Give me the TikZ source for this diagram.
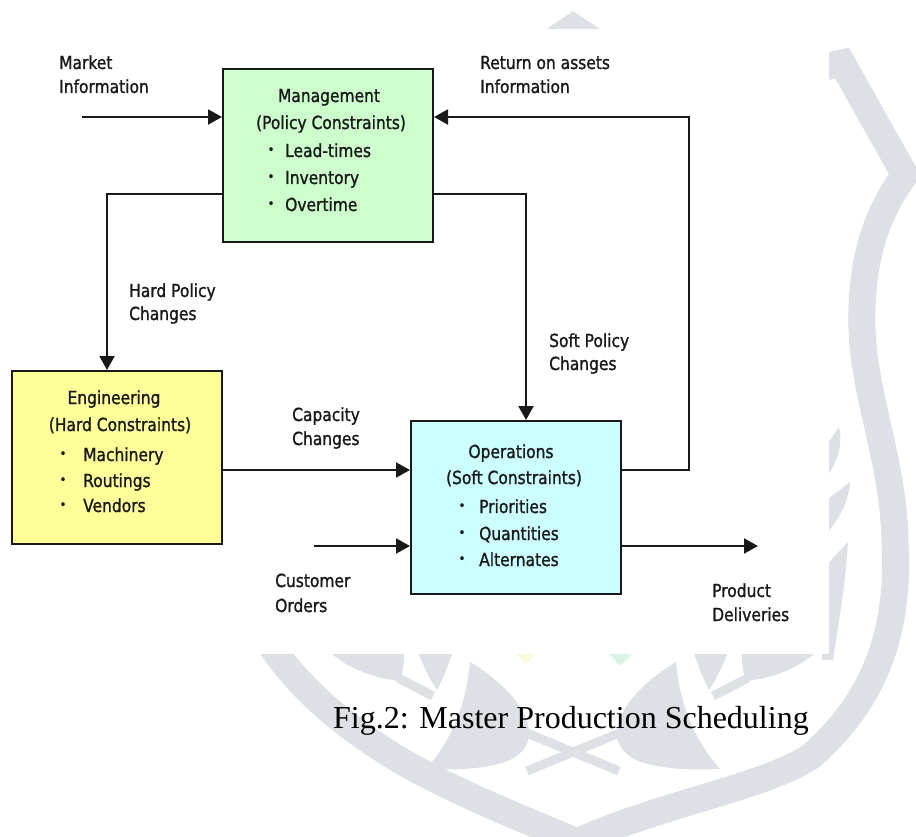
\documentclass[tikz,border=0pt]{standalone}
\usepackage{fontspec}
\setmainfont{Liberation Serif}
\newfontfamily\diagfont[FakeStretch=0.86,FakeBold=1.2]{DejaVu Sans}
\usetikzlibrary{arrows.meta}

\definecolor{wmgray}{RGB}{221,225,229}
\definecolor{wmyellow}{RGB}{250,250,218}
\definecolor{wmgreen}{RGB}{218,244,228}
\definecolor{mgmtfill}{RGB}{204,255,204}
\definecolor{engfill}{RGB}{255,255,153}
\definecolor{opsfill}{RGB}{204,255,255}
\definecolor{ink}{RGB}{25,25,25}

\begin{document}
\begin{tikzpicture}[x=1pt,y=-1pt,
  block/.style={draw=ink, line width=2pt, minimum width=210pt, minimum height=173pt,
    inner sep=0pt, anchor=north west},
  lbl/.style={font=\diagfont\fontsize{18}{20}\selectfont, text=ink, anchor=base west, inner sep=0pt},
  head/.style={lbl, anchor=base},
  dot/.style={font=\diagfont\fontsize{13}{14}\selectfont, text=ink, anchor=base, inner sep=0pt},
  flow/.style={draw=ink, line width=2pt, -{Triangle[length=14pt,width=15pt]}},
  wm/.style={fill=wmgray, draw=none},
  wmband/.style={draw=wmgray, line width=27pt, line join=miter},
  wmstem/.style={draw=wmgray, line width=9pt}
]
\useasboundingbox (0,0) rectangle (916,837);
\clip (0,0) rectangle (916,837);
\fill[white] (0,0) rectangle (916,837);

% faint emblem behind the figure
\fill[wm] (536,36) -- (573,11) -- (610,36) -- cycle;
\draw[wmband] (760,82) -- (842,63) -- (905,175)
  .. controls (872,218) and (860,272) .. (862,330)
  .. controls (865,400) and (893,460) .. (895,540)
  .. controls (900,630) and (876,700) .. (810,757)
  .. controls (758,790) and (650,805) .. (560,850);
\draw[wmband] (235,560) .. controls (248,625) and (290,695) .. (403,762)
  .. controls (470,800) and (540,825) .. (600,852);
% leaves of the emblem
\fill[wm] (470,662) .. controls (525,695) and (552,744) .. (505,762)
  .. controls (480,770) and (450,770) .. (426,769)
  .. controls (452,740) and (466,705) .. (470,662) -- cycle;
\fill[wm] (676,662) .. controls (621,695) and (594,744) .. (641,762)
  .. controls (666,770) and (696,770) .. (720,769)
  .. controls (694,740) and (680,705) .. (676,662) -- cycle;
\draw[wmstem] (512,727) -- (619,771);
\draw[wmstem] (634,727) -- (527,771);
\fill[wm] (318,640) .. controls (338,665) and (370,678) .. (400,681)
  .. controls (405,665) and (406,650) .. (400,640) -- cycle;
\fill[wm] (828,640) .. controls (808,665) and (776,678) .. (746,681)
  .. controls (741,665) and (740,650) .. (746,640) -- cycle;
\draw[wmstem] (398,678) -- (433,696);
\draw[wmstem] (748,678) -- (713,696);
\fill[wm] (414,640) .. controls (420,660) and (430,680) .. (437,690)
  .. controls (445,675) and (452,655) .. (456,640) -- cycle;
\fill[wm] (732,640) .. controls (726,660) and (716,680) .. (709,690)
  .. controls (701,675) and (694,655) .. (690,640) -- cycle;
\fill[wm] (839,427) .. controls (843,445) and (838,465) .. (820,485) -- (820,455) -- cycle;
\fill[wm] (850,482) .. controls (848,505) and (838,522) .. (820,540) -- (820,505) -- cycle;
\fill[wm] (848,542) .. controls (845,590) and (838,625) .. (833,660) -- (822,660) -- (822,570) -- cycle;
\fill[wmyellow] (516,654) -- (535,654) -- (526,664) -- cycle;
\fill[wmgreen] (609,654) -- (632,654) -- (620,666) -- cycle;

% white field of the figure
\fill[white] (0,29) rectangle (829,654);

% blocks
\node[block, fill=mgmtfill] (mgmt) at (222,68) {};
\node[block, fill=engfill] (eng) at (11,370) {};
\node[block, fill=opsfill] (ops) at (410,420) {};

% block texts
\node[head] (mgmtA) at (329,102) {Management};
\node[head] (mgmtB) at (331,129) {(Policy Constraints)};
\node[dot] (mgmtD1) at (271,154) {•};
\node[dot] (mgmtD2) at (271,181) {•};
\node[dot] (mgmtD3) at (271,208) {•};
\node[lbl] (mgmtI1) at (285,157) {Lead-times};
\node[lbl] (mgmtI2) at (285,184) {Inventory};
\node[lbl] (mgmtI3) at (285,211) {Overtime};

\node[head] (engA) at (114,404) {Engineering};
\node[head] (engB) at (120,431) {(Hard Constraints)};
\node[dot] (engD1) at (63,458) {•};
\node[dot] (engD2) at (63,484) {•};
\node[dot] (engD3) at (63,509) {•};
\node[lbl] (engI1) at (83,461) {Machinery};
\node[lbl] (engI2) at (83,487) {Routings};
\node[lbl] (engI3) at (83,512) {Vendors};

\node[head] (opsA) at (511,458) {Operations};
\node[head] (opsB) at (514,484) {(Soft Constraints)};
\node[dot] (opsD1) at (462,510) {•};
\node[dot] (opsD2) at (462,537) {•};
\node[dot] (opsD3) at (462,563) {•};
\node[lbl] (opsI1) at (479,513) {Priorities};
\node[lbl] (opsI2) at (479,540) {Quantities};
\node[lbl] (opsI3) at (479,566) {Alternates};

% connectors
\coordinate (mkt) at (82,117);
\draw[flow] (mkt) -- (mkt -| mgmt.west);
\coordinate (roaTop) at (689,117);
\coordinate (roaBot) at (689,470);
\draw[flow] (roaBot -| ops.east) -- (roaBot) -- (roaTop) -- (roaTop -| mgmt.east);
\coordinate (hardTurn) at (107,194);
\draw[flow] (hardTurn -| mgmt.west) -- (hardTurn) -- (hardTurn |- eng.north);
\coordinate (softTurn) at (526,194);
\draw[flow] (softTurn -| mgmt.east) -- (softTurn) -- (softTurn |- ops.north);
\coordinate (capRow) at (300,470);
\draw[flow] (capRow -| eng.east) -- (capRow -| ops.west);
\coordinate (cust) at (314,546);
\draw[flow] (cust) -- (cust -| ops.west);
\coordinate (deliv) at (758,546);
\draw[flow] (deliv -| ops.east) -- (deliv);

% connector labels
\node[lbl] (mktA) at (59,69) {Market};
\node[lbl] (mktB) at (59,93) {Information};
\node[lbl] (roaA) at (480,69) {Return on assets};
\node[lbl] (roaB) at (480,93) {Information};
\node[lbl] (hardA) at (129,297) {Hard Policy};
\node[lbl] (hardB) at (129,320) {Changes};
\node[lbl] (softA) at (549,347) {Soft Policy};
\node[lbl] (softB) at (549,370) {Changes};
\node[lbl] (capA) at (292,421) {Capacity};
\node[lbl] (capB) at (292,445) {Changes};
\node[lbl] (custA) at (275,587) {Customer};
\node[lbl] (custB) at (275,612) {Orders};
\node[lbl] (delA) at (712,597) {Product};
\node[lbl] (delB) at (712,621) {Deliveries};

% caption
\node[anchor=base west, inner sep=0pt, font=\fontsize{32}{36}\selectfont] (caption)
  at (333,728) {Fig.2: Master Production Scheduling};
\end{tikzpicture}
\end{document}
